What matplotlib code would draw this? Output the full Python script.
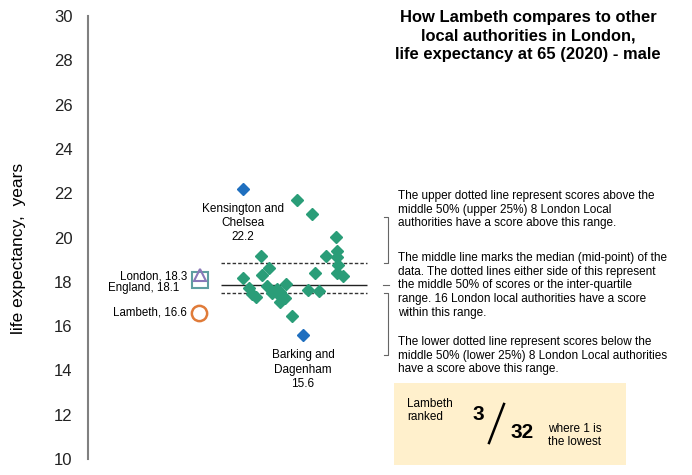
import matplotlib.pyplot as plt
from matplotlib.lines import Line2D
from matplotlib.patches import Rectangle

plt.rcParams['font.family'] = ['Liberation Sans', 'DejaVu Sans']

# London local authorities, life expectancy at 65 (2020) - male
green_vals = [21.69, 21.06, 20.04, 19.40, 19.11, 19.16, 19.16, 18.76, 18.61, 18.41,
              18.26, 18.38, 18.31, 18.16, 17.90, 17.81, 17.71, 17.63, 17.58, 17.66,
              17.51, 17.55, 17.45, 17.33, 17.36, 17.25, 17.10, 16.47]
green_x = [3, 18, 42, 43, 43, 32, -33, 44, -25, 43,
           49, 21, -32, -51, -8, -27, -45, 14, 25, -17,
           -22, -14, -42, -38, -14, -9, -14, -2]
blue_vals = [22.2, 15.6]
blue_x = [-51, 9]
blue_names = ['Kensington and\nChelsea\n22.2', 'Barking and\nDagenham\n15.6']

q_upper, q_median, q_lower = 18.83, 17.86, 17.48
london, england, lambeth = 18.3, 18.1, 16.6
rank, total = 3, 32

fig = plt.figure(figsize=(6.92, 4.75), dpi=100)
ax = fig.add_axes([88/692, 1 - 459/475, 1 - 88/692, (459 - 16)/475])
ax.set_xlim(-206, 398)
ax.set_ylim(10, 30)
ax.set_yticks(range(10, 31, 2))
ax.tick_params(axis='y', length=0, pad=11, labelsize=12, labelcolor='#222222')
ax.set_xticks([])
for s in ['top', 'right', 'bottom']:
    ax.spines[s].set_visible(False)
ax.spines['left'].set_color('#808080')
ax.spines['left'].set_linewidth(1.5)
ax.set_ylabel('life expectancy,  years', fontsize=12.5)
ax.yaxis.set_label_coords(-0.103, 0.476)

# quartile / median lines
ax.hlines([q_upper, q_lower], -73, 73, colors='#333333', linestyles=(0, (2.5, 1.5)), lw=1)
ax.hlines(q_median, -73, 73, colors='#222222', lw=1)

ax.plot(green_x, green_vals, 'D', color='#2a9d78', ms=6.5, mec='#2a9d78', ls='none')
ax.plot(blue_x, blue_vals, 'D', color='#1f6fbf', ms=6.5, ls='none')
ax.text(blue_x[0], 21.57, blue_names[0], ha='center', va='top', fontsize=8.5, linespacing=1.25)
ax.text(blue_x[1], 14.95, blue_names[1], ha='center', va='top', fontsize=8.5, linespacing=1.25)

# comparators
ax.plot(-94, england, 's', ms=11, mfc='none', mec='#5f9ea0', mew=1.5)
ax.plot(-94, london, '^', ms=9, mfc='none', mec='#8a78b8', mew=1.5)
ax.plot(-95, lambeth, 'o', ms=11, mfc='none', mec='#e07b39', mew=1.8)
ax.text(-107, london - 0.05, 'London, %.1f' % london, ha='right', va='center', fontsize=8.3)
ax.text(-115, england - 0.38, 'England, %.1f' % england, ha='right', va='center', fontsize=8.3)
ax.text(-107, lambeth, 'Lambeth, %.1f' % lambeth, ha='right', va='center', fontsize=8.3)

fig.text(528/692, 1 - 10/475, 'How Lambeth compares to other\nlocal authorities in London,\nlife expectancy at 65 (2020) - male',
         ha='center', va='top', fontsize=11.9, fontweight='bold', linespacing=1.3)

fs = 8.5
fig.text(398/692, 1 - 190/475, 'The upper dotted line represent scores above the\nmiddle 50% (upper 25%) 8 London Local\nauthorities have a score above this range.',
         ha='left', va='top', fontsize=fs, linespacing=1.19)
fig.text(398/692, 1 - 252/475, 'The middle line marks the median (mid-point) of the\ndata. The dotted lines either side of this represent\nthe middle 50% of scores or the inter-quartile\nrange. 16 London local authorities have a score\nwithin this range.',
         ha='left', va='top', fontsize=fs, linespacing=1.19)
fig.text(398/692, 1 - 336/475, 'The lower dotted line represent scores below the\nmiddle 50% (lower 25%) 8 London Local authorities\nhave a score above this range.',
         ha='left', va='top', fontsize=fs, linespacing=1.19)

# brackets
def fl(xs, ys, **kw):
    kw.setdefault('color', '#666666')
    kw.setdefault('lw', 0.8)
    fig.add_artist(Line2D([x/692 for x in xs], [1 - y/475 for y in ys], **kw))

fl([384, 388, 388, 384], [217, 217, 263, 263])
fl([383, 389], [285, 285])
fl([384, 388, 388, 384], [293, 293, 355, 355])

# rank box
fig.add_artist(Rectangle((394/692, 1 - 465/475), (626 - 394)/692, (465 - 383)/475,
                         facecolor='#fff0cc', edgecolor='none'))
fig.text(407/692, 1 - 398/475, 'Lambeth\nranked', ha='left', va='top', fontsize=8.5, linespacing=1.1)
fig.text(478/692, 1 - 415/475, str(rank), ha='center', va='center', fontsize=15, fontweight='bold')
fl([489, 504], [443, 404], color='black', lw=1.8)
fig.text(522/692, 1 - 433/475, str(total), ha='center', va='center', fontsize=15, fontweight='bold')
fig.text(548/692, 1 - 423/475, 'where 1 is\nthe lowest', ha='left', va='top', fontsize=8.5, linespacing=1.1)

fig.savefig('out.png', dpi=100)
